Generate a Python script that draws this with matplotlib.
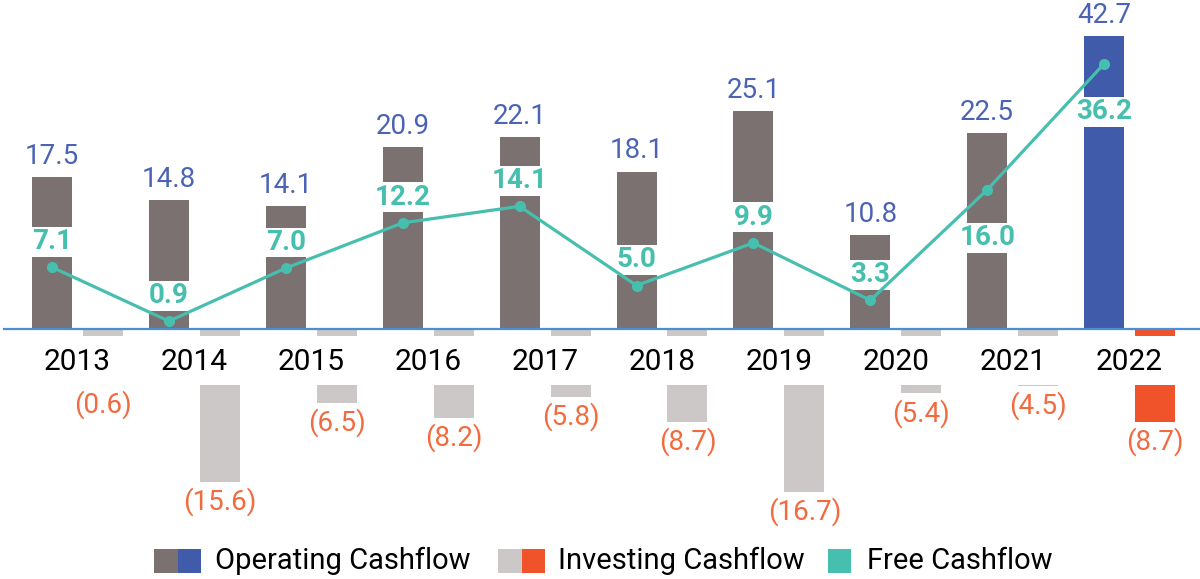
import matplotlib.pyplot as plt
import numpy as np
from matplotlib.patches import Rectangle

plt.rcParams['font.family'] = ['Roboto', 'DejaVu Sans']

years = ['2013', '2014', '2015', '2016', '2017', '2018', '2019', '2020', '2021', '2022']
operating = [17.5, 14.8, 14.1, 20.9, 22.1, 18.1, 25.1, 10.8, 22.5, 42.7]
investing = [-0.6, -15.6, -6.5, -8.2, -5.8, -8.7, -16.7, -5.4, -4.5, -8.7]
free_cf = [7.1, 0.9, 7.0, 12.2, 14.1, 5.0, 9.9, 3.3, 16.0, 36.2]
fcf_label_below = ['2021', '2022']

GREY = '#7a7170'
BLUE = '#3f5ba9'
LGREY = '#cdc8c8'
ORANGE = '#f0522a'
TEAL = '#47bfaf'
LBLUE = '#4a63b5'
LORANGE = '#f26a3d'
AXBLUE = '#4a8fd6'

# the source squeezes the top of the scale so the 2022 bar fits
BREAK, SQUEEZE = 25.0, 0.49


def fwd(v):
    v = np.asarray(v, dtype=float)
    return np.where(v > BREAK, BREAK + (v - BREAK) * SQUEEZE, v)


def inv(t):
    t = np.asarray(t, dtype=float)
    return np.where(t > BREAK, BREAK + (t - BREAK) / SQUEEZE, t)


PX = 8.7        # pixels per unit
ZERO_PX = 329   # zero line, pixels from top
STUB = 0.8      # visible stub of investing bars above the year band
GAP = 2.0       # investing bars pushed down below the year band
BAND = 6.44

fig = plt.figure(figsize=(12, 5.79), dpi=100)
ax = fig.add_axes([4 / 1200, 0, 1196 / 1200, 1])
ax.set_yscale('function', functions=(fwd, inv))
ax.set_ylim(-(579 - ZERO_PX) / PX, float(inv(ZERO_PX / PX)))
ax.set_xlim((4 - 77.5) / 116.9, (1200 - 77.5) / 116.9)

x = np.arange(len(years))
w = 0.342
off = 0.218
op_colors = [GREY] * (len(years) - 1) + [BLUE]
inv_colors = [LGREY] * (len(years) - 1) + [ORANGE]

ax.bar(x - off, operating, w, color=op_colors, zorder=1)
inv_depth = [v - GAP for v in investing]
ax.bar(x + off, inv_depth, w, color=inv_colors, zorder=1)
ax.axhspan(-BAND, -STUB, color='white', zorder=1.5, lw=0)

ax.plot(x - off, free_cf, color=TEAL, lw=2.3, marker='o', ms=7, zorder=4)

for i, v in enumerate(operating):
    ax.annotate(f'{v:.1f}', (x[i] - off, v), xytext=(0, 9.5), textcoords='offset points',
                ha='center', va='baseline', fontsize=20, color=LBLUE, zorder=5)

for i, v in enumerate(free_cf):
    dy = -40 if years[i] in fcf_label_below else 13
    ax.annotate(f'{v:.1f}', (x[i] - off, v), xytext=(0, dy), textcoords='offset points',
                ha='center', va='baseline', fontsize=20, color=TEAL, fontweight='bold',
                zorder=3, bbox=dict(boxstyle='square,pad=0.05', fc='white', ec='none'))

for i, v in enumerate(investing):
    anchor = min(v - GAP, -BAND)
    ax.annotate(f'({abs(v):.1f})', (x[i] + off, anchor), xytext=(0, -4),
                textcoords='offset points', ha='center', va='top', fontsize=20,
                color=LORANGE, zorder=5)

ax.set_xticks(x, years)
ax.tick_params(axis='x', length=0, pad=14, labelsize=21.5, labelcolor='black')
ax.set_yticks([])
for side in ['top', 'right', 'left']:
    ax.spines[side].set_visible(False)
ax.spines['bottom'].set_position(('data', 0))
ax.spines['bottom'].set_color(AXBLUE)
ax.spines['bottom'].set_linewidth(1.6)
ax.spines['bottom'].set_zorder(2.5)

# legend, drawn by hand because of the two-colour swatches
W, H = 1200, 579
legend_items = [
    ([GREY, BLUE], 154, 'Operating Cashflow', 215),
    ([LGREY, ORANGE], 498, 'Investing Cashflow', 558),
    ([TEAL], 828, 'Free Cashflow', 867),
]
ly = 561
for cols, px0, label, tx in legend_items:
    for k, c in enumerate(cols):
        fig.add_artist(Rectangle(((px0 + 23.5 * k) / W, (H - ly - 12) / H), 23.5 / W, 24 / H,
                                 transform=fig.transFigure, color=c, lw=0))
    fig.text(tx / W, (H - ly) / H, label, fontsize=21, va='center', ha='left', color='black')

fig.savefig('out.png', dpi=100)
